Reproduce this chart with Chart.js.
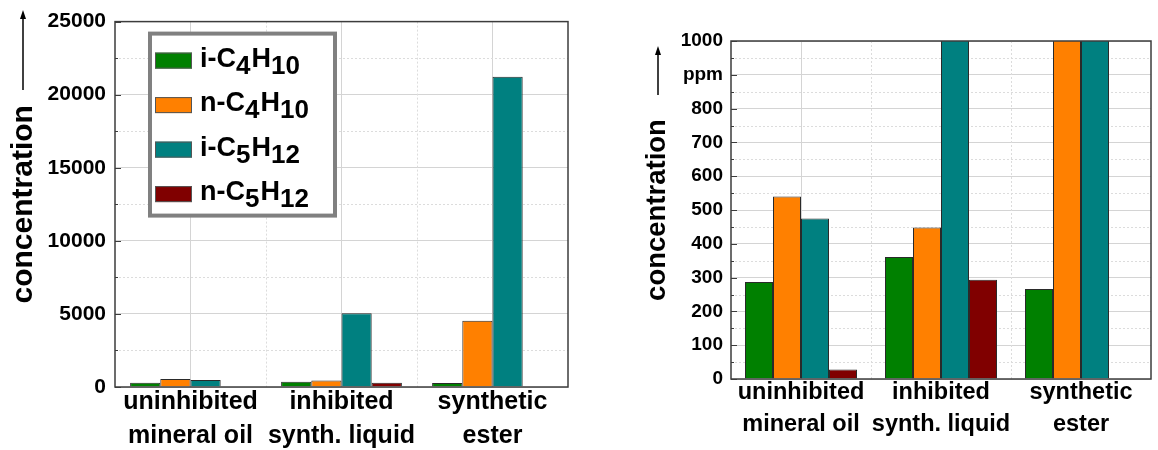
<!DOCTYPE html>
<html>
<head>
<meta charset="utf-8">
<script src="https://cdn.jsdelivr.net/npm/chart.js@4"></script>
<style>
  html, body { margin: 0; padding: 0; background: #fff; }
  #wrap { position: relative; width: 1158px; height: 450px; }
  .panel { position: absolute; top: 0; height: 450px; }
</style>
</head>
<body>
<div id="wrap">
  <div class="panel" style="left:0;width:580px"><canvas id="overview" width="580" height="450"></canvas></div>
  <div class="panel" style="left:580px;width:578px"><canvas id="detail" width="578" height="450"></canvas></div>
</div>
<script>
// Gas concentrations per insulating liquid (ppm)
const liquids = [['uninhibited', 'mineral oil'], ['inhibited', 'synth. liquid'], ['synthetic', 'ester']];
const gasNames = ['i-C4H10', 'n-C4H10', 'i-C5H12', 'n-C5H12'];
const gasColors = ['#008000', '#ff8000', '#008080', '#800000'];

const iC4H10 = [287, 361, 266];
const nC4H10 = [540, 448, 4530];
const iC5H12 = [475, 5050, 21220];
const nC5H12 = [28, 294, null];

const overviewMax = 25000;
const overviewStep = 5000;
const detailMax = 1000;
const detailStep = 100;
const detailTickLabels = ['0', '100', '200', '300', '400', '500', '600', '700', '800', 'ppm', '1000'];

const FONT = '"Liberation Sans", Arial, Helvetica, sans-serif';
const GRID = '#d4d4d4';
const MINOR = '#dcdcdc';
const FRAME = '#3c3c3c';

const gasSeries = [iC4H10, nC4H10, iC5H12, nC5H12];

function buildDatasets(clip) {
    return gasSeries.map((vals, i) => ({
        label: gasNames[i],
        data: vals,
        backgroundColor: gasColors[i],
        borderColor: '#2a2a2a',
        borderWidth: 1,
        barPercentage: 1,
        categoryPercentage: 0.8,
        clip: clip,
    }));
}

// dashed minor grid, inward tick marks and the closed frame around the plot
const framePlugin = {
    id: 'frame',
    beforeDatasetsDraw(chart) {
        const { ctx, chartArea: a, scales: { x, y } } = chart;
        ctx.save();
        ctx.strokeStyle = MINOR;
        ctx.lineWidth = 1;
        ctx.setLineDash([2, 2]);
        ctx.beginPath();
        for (let i = 0; i < y.ticks.length - 1; i++) {
            const py = Math.round(y.getPixelForValue((y.ticks[i].value + y.ticks[i + 1].value) / 2)) + 0.5;
            ctx.moveTo(a.left, py);
            ctx.lineTo(a.right, py);
        }
        for (let i = 0; i < x.ticks.length - 1; i++) {
            const px = Math.round((x.getPixelForTick(i) + x.getPixelForTick(i + 1)) / 2) + 0.5;
            ctx.moveTo(px, a.top);
            ctx.lineTo(px, a.bottom);
        }
        ctx.stroke();
        ctx.restore();
    },
    afterDatasetsDraw(chart) {
        const { ctx, chartArea: a, scales: { y } } = chart;
        ctx.save();
        ctx.strokeStyle = FRAME;
        ctx.lineWidth = 1;
        ctx.beginPath();
        y.ticks.forEach((t, i) => {
            const py = Math.round(y.getPixelForValue(t.value)) + 0.5;
            ctx.moveTo(a.left, py);
            ctx.lineTo(a.left + 6, py);
            if (i < y.ticks.length - 1) {
                const pm = Math.round(y.getPixelForValue((t.value + y.ticks[i + 1].value) / 2)) + 0.5;
                ctx.moveTo(a.left, pm);
                ctx.lineTo(a.left + 3, pm);
            }
        });
        ctx.stroke();
        ctx.lineWidth = 1.5;
        ctx.strokeRect(a.left, a.top, a.right - a.left, a.bottom - a.top);
        ctx.restore();
    }
};

// upward arrow drawn above the axis title
function arrowPlugin(ax, yTop, yBottom) {
    return {
        id: 'arrow',
        afterDraw(chart) {
            const ctx = chart.ctx;
            ctx.save();
            ctx.strokeStyle = '#000';
            ctx.fillStyle = '#000';
            ctx.lineWidth = 1.5;
            ctx.beginPath();
            ctx.moveTo(ax, yBottom);
            ctx.lineTo(ax, yTop + 6);
            ctx.stroke();
            ctx.beginPath();
            ctx.moveTo(ax, yTop);
            ctx.lineTo(ax - 3, yTop + 9);
            ctx.lineTo(ax + 3, yTop + 9);
            ctx.closePath();
            ctx.fill();
            ctx.restore();
        }
    };
}

// split "i-C4H10" into normal and subscript runs
function formulaRuns(label) {
    const runs = [];
    const re = /([^0-9]+)|([0-9]+)/g;
    let m;
    while ((m = re.exec(label))) {
        runs.push({ text: m[0], sub: !!m[2] });
    }
    return runs;
}

// boxed legend with chemical formulas, upper left inside the plot
const formulaLegend = {
    id: 'formulaLegend',
    afterDraw(chart) {
        const { ctx, chartArea: a } = chart;
        const bx = a.left + 35, by = a.top + 12, bw = 185, bh = 182;
        ctx.save();
        ctx.fillStyle = '#fff';
        ctx.fillRect(bx, by, bw, bh);
        ctx.strokeStyle = '#808080';
        ctx.lineWidth = 4;
        ctx.strokeRect(bx, by, bw, bh);
        chart.data.datasets.forEach((ds, i) => {
            const cy = by + 27 + i * 44.5;
            ctx.fillStyle = ds.backgroundColor;
            ctx.fillRect(bx + 5, cy - 8, 37, 16);
            ctx.strokeStyle = '#555';
            ctx.lineWidth = 1;
            ctx.strokeRect(bx + 5.5, cy - 7.5, 36, 15);
            let tx = bx + 50;
            ctx.fillStyle = '#000';
            ctx.textBaseline = 'alphabetic';
            formulaRuns(ds.label).forEach(r => {
                ctx.font = (r.sub ? 'bold 26px ' : 'bold 27px ') + FONT;
                ctx.fillText(r.text, tx, cy + (r.sub ? 13 : 6));
                tx += ctx.measureText(r.text).width + (r.sub ? 1 : 0);
            });
        });
        ctx.restore();
    }
};

function makeChart(id, o) {
    return new Chart(document.getElementById(id), {
        type: 'bar',
        data: { labels: liquids, datasets: buildDatasets(o.clip) },
        options: {
            responsive: false,
            animation: false,
            layout: { padding: { top: o.padTop, right: o.padRight, left: 0, bottom: 0 } },
            plugins: { legend: { display: false }, tooltip: { enabled: false } },
            scales: {
                x: {
                    afterFit: s => { s.height = o.xHeight; },
                    grid: { offset: false, color: GRID, drawTicks: false },
                    border: { display: false },
                    ticks: {
                        color: '#000', autoSkip: false, maxRotation: 0, padding: o.xPad,
                        font: { family: FONT, size: o.xFont, weight: 'bold', lineHeight: o.xLine }
                    }
                },
                y: {
                    min: 0, max: o.max,
                    afterFit: s => { s.width = o.yWidth; },
                    grid: { color: GRID, drawTicks: false },
                    border: { display: false },
                    ticks: {
                        stepSize: o.step, color: '#000', padding: o.yPad,
                        font: { family: FONT, size: o.yFont, weight: 'bold' },
                        callback: o.tickText
                    },
                    title: {
                        display: true, text: 'concentration', color: '#000',
                        padding: { top: o.titlePad, bottom: 0 },
                        font: { family: FONT, size: o.titleFont, weight: 'bold', lineHeight: 1.2 }
                    }
                }
            }
        },
        plugins: o.plugins
    });
}

makeChart('overview', {
    max: overviewMax, step: overviewStep, clip: 0,
    padTop: 21, padRight: 12, xHeight: 63, yWidth: 115,
    xFont: 25, xLine: 1.36, xPad: -2, yFont: 21, yPad: 9,
    titleFont: 30, titlePad: 6,
    tickText: v => String(v),
    plugins: [framePlugin, formulaLegend, arrowPlugin(23, 10, 90)]
});

makeChart('detail', {
    max: detailMax, step: detailStep, clip: 0,
    padTop: 41, padRight: 7, xHeight: 71, yWidth: 151,
    xFont: 23.5, xLine: 1.35, xPad: -2, yFont: 19, yPad: 8,
    titleFont: 27.5, titlePad: 61,
    tickText: (v, i) => detailTickLabels[i],
    plugins: [framePlugin, arrowPlugin(78, 46, 95)]
});
</script>
</body>
</html>
